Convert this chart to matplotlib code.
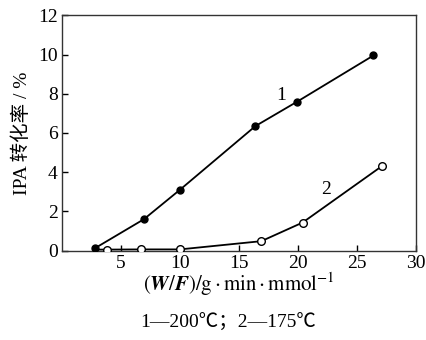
import matplotlib
matplotlib.use("Agg")
import matplotlib.pyplot as plt

# curve 1 (200 C), filled markers
x1 = [2.8, 6.95, 10.0, 16.4, 19.95, 26.4]
y1 = [0.12, 1.6, 3.1, 6.35, 7.6, 9.95]
# curve 2 (175 C), open markers
x2 = [3.8, 6.7, 10.0, 16.9, 20.4, 27.1]
y2 = [0.05, 0.06, 0.06, 0.48, 1.43, 4.3]
line2_start = (2.9, 0.05)

xticks = [5, 10, 15, 20, 25, 30]
yticks = [0, 2, 4, 6, 8, 10, 12]

plt.rcParams['font.family'] = ['Liberation Serif', 'Noto Sans CJK SC']
plt.rcParams['mathtext.fontset'] = 'stix'

fig = plt.figure(figsize=(4.27, 3.4), dpi=100)
ax = fig.add_axes([0.145, 0.263, 0.829, 0.692])

ax.plot(x1, y1, color='black', lw=1.3, marker='o', ms=5,
        mfc='black', mec='black', zorder=3)
ax.plot([line2_start[0]] + x2, [line2_start[1]] + y2, color='black', lw=1.3, zorder=2)
ax.plot(x2, y2, ls='none', marker='o', ms=5.5, mfc='white', mec='black',
        mew=1.0, zorder=4)

ax.text(18.6, 7.9, '1', fontsize=14, ha='center', va='center')
ax.text(22.4, 3.1, '2', fontsize=14, ha='center', va='center')

ax.set_xlim(0, 30)
ax.set_ylim(0, 12)
ax.set_xticks(xticks)
ax.set_yticks(yticks)
ax.tick_params(direction='in', length=4, width=1, labelsize=14, pad=3,
               top=False, right=False)
for s in ax.spines.values():
    s.set_linewidth(1.0)
    s.set_color('#333333')

ax.set_ylabel('IPA 转化率 / %', fontsize=14, labelpad=5,
              family=['Liberation Serif', 'Noto Sans CJK SC'])
ax.set_xlabel(r'$(\boldsymbol{W}/\boldsymbol{F})/\mathrm{g\cdot min\cdot mmol^{-1}}$',
              fontsize=15, labelpad=-1)

fig.text(0.535, 0.05, '1—200℃；2—175℃', fontsize=14, ha='center', va='center',
         family=['Liberation Serif', 'Noto Sans CJK SC'])

fig.savefig('out.png', dpi=100)
